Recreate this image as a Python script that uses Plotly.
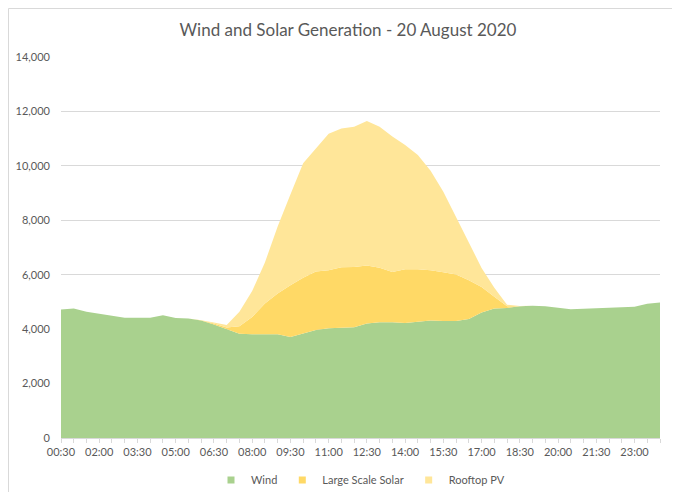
import plotly.graph_objects as go

times = ["00:30", "01:00", "01:30", "02:00", "02:30", "03:00", "03:30", "04:00",
         "04:30", "05:00", "05:30", "06:00", "06:30", "07:00", "07:30", "08:00",
         "08:30", "09:00", "09:30", "10:00", "10:30", "11:00", "11:30", "12:00",
         "12:30", "13:00", "13:30", "14:00", "14:30", "15:00", "15:30", "16:00",
         "16:30", "17:00", "17:30", "18:00", "18:30", "19:00", "19:30", "20:00",
         "20:30", "21:00", "21:30", "22:00", "22:30", "23:00", "23:30", "00:00"]

wind = [4720, 4760, 4640, 4560, 4490, 4420, 4420, 4420, 4510, 4410, 4390, 4320,
        4170, 4000, 3830, 3810, 3820, 3810, 3710, 3850, 3970, 4030, 4050, 4070,
        4210, 4250, 4250, 4230, 4270, 4320, 4300, 4300, 4370, 4610, 4760, 4780,
        4840, 4860, 4840, 4780, 4730, 4750, 4770, 4780, 4790, 4820, 4930, 4980]

large_scale_solar = [0, 0, 0, 0, 0, 0, 0, 0, 0, 0, 0, 10,
                     40, 60, 280, 640, 1120, 1500, 1900, 2040, 2150, 2130, 2220, 2210,
                     2130, 2010, 1850, 1970, 1930, 1840, 1790, 1710, 1430, 940, 430, 60,
                     0, 0, 0, 0, 0, 0, 0, 0, 0, 0, 0, 0]

rooftop_pv = [0, 0, 0, 0, 0, 0, 0, 0, 0, 0, 0, 0,
              30, 90, 530, 950, 1510, 2460, 3340, 4210, 4520, 5020, 5100, 5160,
              5310, 5180, 4980, 4570, 4200, 3660, 2960, 2100, 1350, 700, 330, 60,
              10, 0, 0, 0, 0, 0, 0, 0, 0, 0, 0, 0]

tick_labels = times[::3]

series = [
    ("Wind", wind, "#A9D18E"),
    ("Large Scale Solar", large_scale_solar, "#FFD966"),
    ("Rooftop PV", rooftop_pv, "#FFE699"),
]

fig = go.Figure()
for name, vals, col in series:
    fig.add_trace(go.Scatter(
        x=times, y=vals, name=name, mode="lines", stackgroup="one",
        line=dict(width=0, color=col), fillcolor=col, showlegend=False,
    ))
# legend entries drawn as small squares (Excel style)
for name, vals, col in series:
    fig.add_trace(go.Scatter(
        x=[None], y=[None], name=name, mode="markers",
        marker=dict(symbol="square", size=7, color=col), showlegend=True,
    ))

W, H = 680, 492
L, R, T, B = 53, 28, 49, 62
pw, ph = W - L - R, H - T - B

font_family = "Lato, 'Open Sans', sans-serif"
grey = "#595959"

fig.update_layout(
    width=W, height=H,
    margin=dict(l=L, r=R, t=T, b=B, pad=0, autoexpand=False),
    paper_bgcolor="white", plot_bgcolor="white",
    font=dict(family=font_family, size=11, color=grey),
    title=dict(text="Wind and Solar Generation - 20 August 2020",
               x=0.5, xanchor="center", y=1 - 22 / H, yanchor="middle",
               automargin=False,
               font=dict(size=17, color=grey, family=font_family)),
    showlegend=True,
    legend=dict(orientation="h", x=0.5, xanchor="center",
                y=-(472 - 430) / ph, yanchor="middle",
                font=dict(size=11, color=grey), itemwidth=30,
                traceorder="normal", tracegroupgap=0),
    xaxis=dict(type="category", range=[0, len(times) - 1], automargin=False,
               tickmode="array", tickvals=times,
               ticktext=[t if t in tick_labels and i % 3 == 0 else "" for i, t in enumerate(times)],
               ticks="outside", ticklen=4, tickcolor="#D9D9D9", tickwidth=1,
               showline=True, linecolor="#D9D9D9", linewidth=1,
               showgrid=False, tickangle=0,
               tickfont=dict(size=11, color=grey)),
    yaxis=dict(range=[0, 14000], dtick=2000, tickformat=",", automargin=False,
               showgrid=True, gridcolor="#D9D9D9", gridwidth=1,
               zeroline=False, showline=False, ticks="", ticklabelstandoff=10,
               tickfont=dict(size=11, color=grey)),
    shapes=[dict(type="rect", xref="paper", yref="paper",
                 x0=-(L - 0.5) / pw, x1=1 + (R - 0.5) / pw,
                 y0=-(B - 0.5) / ph, y1=1 + (T - 0.5) / ph,
                 line=dict(color="#D9D9D9", width=1), layer="below")],
)

fig.write_html("out.html")
